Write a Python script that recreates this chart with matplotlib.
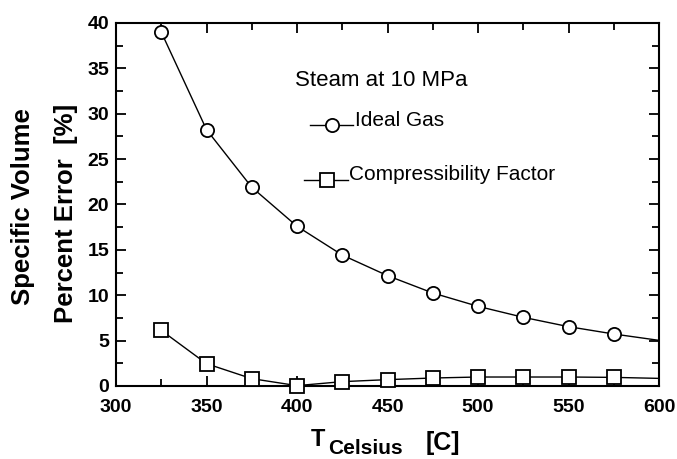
import matplotlib
matplotlib.use("Agg")
import matplotlib.pyplot as plt
from matplotlib.ticker import MultipleLocator

plt.rcParams['font.family'] = ['Liberation Sans', 'DejaVu Sans']

temps = [325, 350, 375, 400, 425, 450, 475, 500, 525, 550, 575, 600]
ideal_gas = [39.0, 28.25, 21.9, 17.6, 14.43, 12.16, 10.25, 8.78, 7.57, 6.54, 5.73, 5.03]
compress = [6.13, 2.46, 0.81, 0.04, 0.48, 0.70, 0.88, 0.99, 0.99, 0.99, 0.95, 0.84]
x_ticks = [300, 350, 400, 450, 500, 550, 600]
y_ticks = [0, 5, 10, 15, 20, 25, 30, 35, 40]

W, H = 677, 459
fig = plt.figure(figsize=(W / 100, H / 100), dpi=100)
ax = fig.add_axes([116 / W, 1 - 386 / H, (659 - 116) / W, (386 - 23) / H])

n_mark = len(temps) - 1
mk = dict(ms=9.5, mfc='white', mec='black', mew=1.3)
ax.plot(temps, ideal_gas, color='black', lw=1.0, marker='o',
        markevery=list(range(n_mark)), clip_on=False, zorder=3, **mk)
ax.plot(temps, compress, color='black', lw=1.0, marker='s',
        markevery=list(range(n_mark)), clip_on=False, zorder=3, **mk)

ax.set_xlim(300, 600)
ax.set_ylim(0, 40)
ax.set_xticks(x_ticks)
ax.set_yticks(y_ticks)
ax.set_xticklabels([str(v) for v in x_ticks], fontsize=14, fontweight='bold')
ax.set_yticklabels([str(v) for v in y_ticks], fontsize=14, fontweight='bold')
ax.xaxis.set_minor_locator(MultipleLocator(25))
ax.yaxis.set_minor_locator(MultipleLocator(2.5))
ax.tick_params(which='both', direction='in', top=True, right=True, width=1.3)
ax.tick_params(which='major', length=7)
ax.tick_params(which='minor', length=5)
ax.tick_params(axis='x', which='major', pad=9)
ax.tick_params(axis='y', which='major', pad=5)
for s in ax.spines.values():
    s.set_linewidth(1.5)


def px(x, y):
    return (x / W, 1 - y / H)


# annotation and legend
fig.text(*px(295, 80), 'Steam at 10 MPa', fontsize=16, va='center', ha='left')
fig.text(*px(355, 120), 'Ideal Gas', fontsize=15, va='center', ha='left')
fig.text(*px(349, 175), 'Compressibility Factor', fontsize=15, va='center', ha='left')
fig.add_artist(plt.Line2D([310 / W, 353 / W], [1 - 125 / H, 1 - 125 / H], color='black', lw=1.0))
fig.add_artist(plt.Line2D([332 / W], [1 - 125 / H], marker='o', **mk))
fig.add_artist(plt.Line2D([304 / W, 348 / W], [1 - 180 / H, 1 - 180 / H], color='black', lw=1.0))
fig.add_artist(plt.Line2D([327 / W], [1 - 180 / H], marker='s', **mk))

# axis labels
fig.text(*px(23, 207), 'Specific Volume', rotation=90, fontsize=18.5, fontweight='bold',
         va='center', ha='center')
fig.text(*px(66, 213), 'Percent Error  [%]', rotation=90, fontsize=18.5, fontweight='bold',
         va='center', ha='center')
fig.text(*px(311, 446), 'T', fontsize=17, fontweight='bold', va='baseline', ha='left')
fig.text(*px(328, 458.5), 'Celsius', fontsize=15, fontweight='bold', va='bottom', ha='left')
fig.text(*px(426, 450), '[C]', fontsize=18, fontweight='bold', va='baseline', ha='left')

fig.savefig('out.png', dpi=100)
